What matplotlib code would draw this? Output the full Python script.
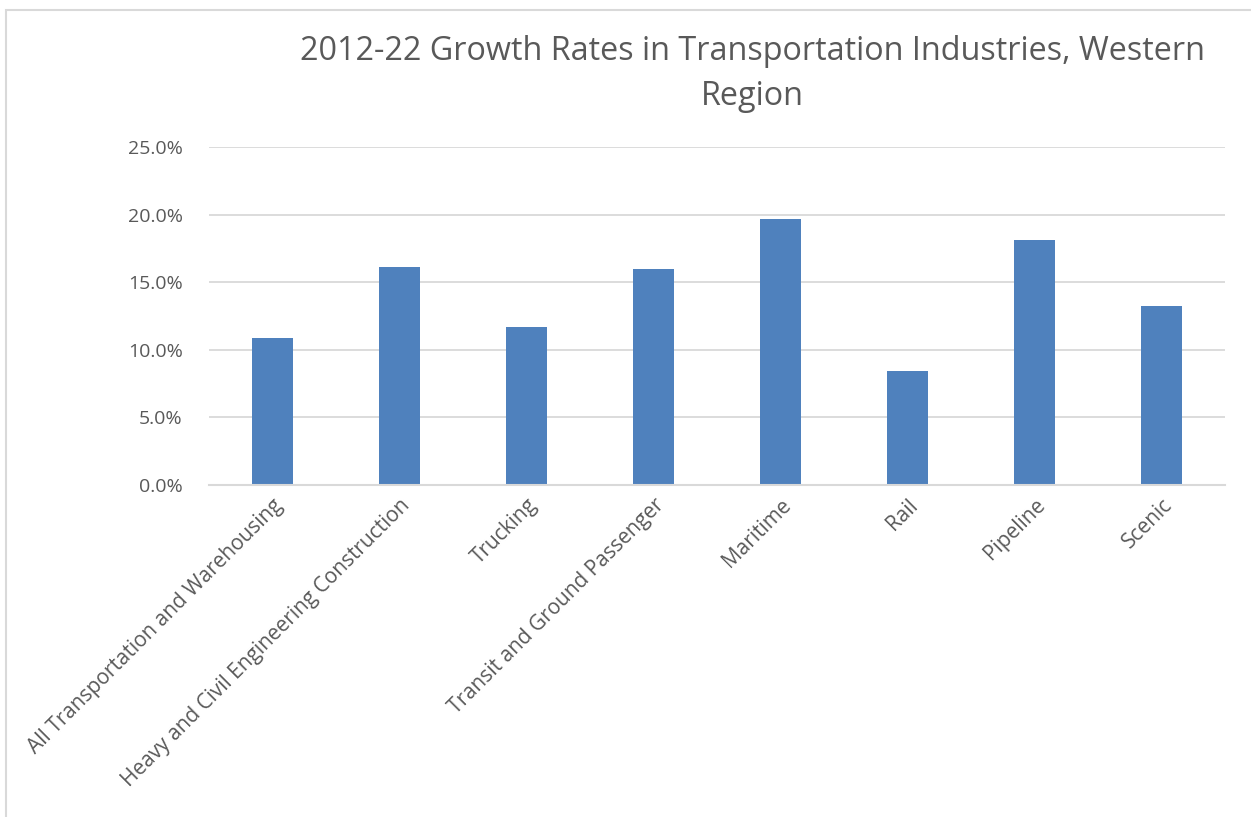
import matplotlib.pyplot as plt
import numpy as np
from matplotlib.ticker import FuncFormatter
from matplotlib.patches import Rectangle

industries = ["All Transportation and Warehousing", "Heavy and Civil Engineering Construction",
              "Trucking", "Transit and Ground Passenger", "Maritime", "Rail", "Pipeline", "Scenic"]
growth = [10.9, 16.15, 11.7, 16.0, 19.7, 8.45, 18.1, 13.25]

plt.rcParams['font.family'] = ['Open Sans', 'DejaVu Sans']
grey = "#595959"

fig = plt.figure(figsize=(12.51, 8.17), dpi=100)
ax = fig.add_axes([209/1251, 1 - 485/817, (1225 - 209)/1251, (485 - 147)/817])

x = np.arange(len(industries))
ax.bar(x, growth, width=0.315, color="#4f81bd", zorder=3)

ax.set_xlim(-0.5, len(industries) - 0.5)
ax.set_ylim(0, 25)
ax.set_yticks(np.arange(0, 26, 5))
ax.yaxis.set_major_formatter(FuncFormatter(lambda v, p: f"{v:.1f}%"))
ax.grid(axis="y", color="#d9d9d9", linewidth=1.3, zorder=0)
for s in ["top", "right", "left"]:
    ax.spines[s].set_visible(False)
ax.spines["bottom"].set_color("#d9d9d9")
ax.spines["bottom"].set_linewidth(1.5)
ax.spines["bottom"].set_zorder(4)

ax.set_xticks(x)
ax.set_xticklabels(industries, rotation=45, ha="right", rotation_mode="anchor")
ax.tick_params(axis="both", length=0, colors=grey)
ax.tick_params(axis="y", pad=19, labelsize=14)
ax.tick_params(axis="x", pad=7, labelsize=15)

fig.text(752/1251, 1 - 74/817, "2012-22 Growth Rates in Transportation Industries, Western\nRegion",
         ha="center", va="center", fontsize=23.3, color=grey, linespacing=1.5)

# thin chart-area border (left and top edges visible)
fig.patches.append(Rectangle((6/1251, -0.1), 1.2, 1 - 10/817 + 0.1, transform=fig.transFigure,
                             fill=False, edgecolor="#d9d9d9", linewidth=1.5))

fig.savefig("out.png", dpi=100)
